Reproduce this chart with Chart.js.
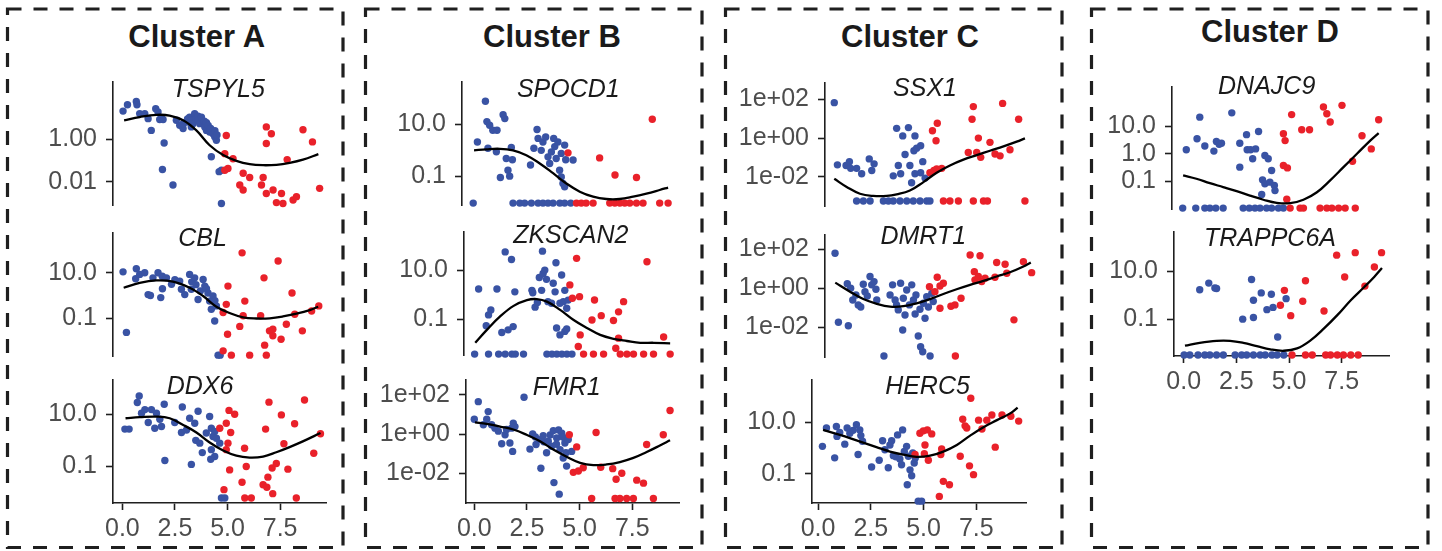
<!DOCTYPE html>
<html>
<head>
<meta charset="utf-8">
<script src="https://cdn.jsdelivr.net/npm/chart.js@4.4.1/dist/chart.umd.min.js"></script>
<style>
  body { margin: 0; background: #fff; }
  #page { position: relative; width: 1442px; height: 551px; overflow: hidden; font-family: "Liberation Sans", Arial, sans-serif; }
  #page canvas { position: absolute; }
  #boxes { position: absolute; left: 0; top: 0; }
  .cluster { position: absolute; font-weight: bold; font-size: 31px; color: #1a1a1a; transform: translate(-50%, -50%); line-height: 1; white-space: nowrap; }
  .gene { position: absolute; font-style: italic; font-size: 25px; color: #1a1a1a; transform: translate(-50%, -50%); line-height: 1; white-space: nowrap; }
</style>
</head>
<body>
<div id="page">
  <svg id="boxes" width="1442" height="551"></svg>
</div>
<script>
// ---- data (x = pseudotime, y = expression, log scale) ----
const clusterNames = ['Cluster A', 'Cluster B', 'Cluster C', 'Cluster D'];
const xTickValues = [0, 2.5, 5, 7.5];
const xTickLabels = ['0.0', '2.5', '5.0', '7.5'];

// Cluster A
const TSPYL5_blue = [[0.04,21],[0.25,42],[0.67,60],[0.70,42],[0.83,16],[1.07,16],[1.23,9.3],[1.38,2.6],[1.59,27],[1.70,19],[1.78,8.4],[1.94,8.4],[1.99,0.67],[1.91,0.038],[2.41,0.007],[2.57,7.8],[2.73,4.5],[2.89,3.2],[2.89,5.4],[3.05,6.5],[3.1,9],[3.20,11],[3.28,3.8],[3.3,8],[3.36,5.4],[3.44,16],[3.52,9.3],[3.6,12],[3.60,7.8],[3.68,5.4],[3.76,11],[3.84,5.4],[3.9,7],[3.92,3.8],[4.0,6],[4.00,2.6],[4.08,4.5],[4.15,2.2],[4.2,3.2],[4.31,1.8],[4.39,1.3],[4.4,2.5],[4.47,0.9],[4.5,1.6],[4.23,0.15],[4.60,0.03],[4.71,0.035],[4.71,0.00096]];
const TSPYL5_red = [[4.94,1.5],[4.87,0.21],[5.26,0.12],[5.02,0.042],[4.87,0.035],[5.74,0.025],[6.05,0.016],[5.58,0.007],[5.74,0.0041],[6.69,0.016],[6.61,0.007],[6.84,3.8],[7.08,1.8],[6.84,0.63],[6.84,0.0028],[7.16,0.0041],[7.32,0.00105],[7.56,0.0028],[7.63,0.00096],[8.11,0.0014],[8.27,0.002],[7.83,0.11],[8.58,2.8],[9.03,0.75],[9.37,0.0049]];
const TSPYL5_fitX = [0.09,0.83,1.62,2.25,2.89,3.52,4.15,4.79,5.42,6.05,6.69,7.32,7.95,8.58,9.31];
const TSPYL5_fitY = [7.8,11,14,13,7.8,2.6,0.52,0.18,0.096,0.067,0.06,0.063,0.078,0.11,0.2];
const TSPYL5_ticks = [1, 0.01];
const TSPYL5_tickLabels = ['1.00', '0.01'];

const CBL_blue = [[0.04,11],[0.20,0.024],[0.67,15],[0.64,5.5],[0.83,8.5],[1.07,10],[1.23,1.1],[1.34,1.0],[1.46,6],[1.70,10],[1.83,0.81],[1.9,7],[1.91,2],[2.1,6],[2.34,3.1],[2.5,5],[2.73,4.3],[2.81,1.9],[2.97,1.1],[3.20,8.5],[3.28,1.9],[3.3,4],[3.44,6],[3.5,3],[3.60,0.67],[3.71,1.6],[3.84,5.1],[3.92,2.6],[4.0,2],[4.07,1.3],[4.15,0.57],[4.31,0.95],[4.23,0.25],[4.39,0.076],[4.4,0.6],[4.47,0.35],[4.55,0.0024],[4.65,0.0024]];
const CBL_red = [[5.69,75],[5.02,2.6],[4.94,0.41],[4.79,0.18],[5.82,0.57],[5.74,0.13],[5.58,0.044],[5.0,0.02],[4.79,0.0037],[5.18,0.0024],[6.05,0.0024],[6.84,0.0024],[6.76,0.0066],[6.73,6],[6.57,0.13],[6.99,0.028],[7.15,0.017],[7.15,0.033],[7.54,0.012],[7.79,0.055],[8.06,1.3],[7.40,33],[8.19,0.15],[8.55,0.028],[8.99,0.21],[9.33,0.35]];
const CBL_fitX = [0.07,0.83,1.62,2.41,3.20,3.84,4.47,5.10,5.74,6.37,7.0,7.63,8.27,8.9,9.30];
const CBL_fitY = [2.2,3.6,4.6,4.1,2.2,0.95,0.32,0.17,0.11,0.098,0.1,0.12,0.16,0.23,0.32];
const CBL_ticks = [10, 0.1];
const CBL_tickLabels = ['10.0', '0.1'];

const DDX6_blue = [[0.12,2.7],[0.32,2.7],[0.80,50],[0.71,28],[0.91,11],[1.07,15],[1.23,4.8],[1.38,15],[1.54,2.9],[1.62,11],[1.78,6.4],[1.86,3.4],[1.99,24],[2.02,0.17],[2.49,4.8],[2.85,19],[2.81,2],[3.05,2.5],[3.20,7],[3.28,0.12],[3.44,4.5],[3.49,1.0],[3.60,13],[3.68,0.78],[3.80,0.34],[3.99,1.9],[4.15,8.2],[4.23,2.9],[4.31,1.4],[4.39,2.2],[4.23,0.44],[4.39,0.24],[4.20,0.19],[4.63,0.78],[4.47,1.2],[4.71,0.0062],[4.87,0.0062]];
const DDX6_red = [[4.63,2.9],[4.94,4.5],[5.07,14],[5.34,10],[5.15,2],[5.02,0.78],[4.94,0.44],[5.81,0.5],[5.10,0.074],[5.89,0.1],[5.69,0.025],[4.83,0.013],[5.82,0.0062],[6.13,0.0062],[6.81,2.7],[6.97,29],[6.69,0.02],[6.87,0.016],[6.92,0.039],[7.15,0.0091],[7.12,0.087],[7.32,0.13],[7.56,9.4],[7.68,0.74],[7.87,0.079],[8.19,4.3],[8.27,0.0062],[8.66,35],[9.1,0.32],[9.42,1.8]];
const DDX6_fitX = [0.15,0.83,1.62,2.25,2.89,3.52,4.15,4.79,5.42,6.05,6.69,7.32,7.95,8.58,9.42];
const DDX6_fitY = [7.0,7.7,8.1,7.0,3.9,2.0,0.83,0.41,0.26,0.22,0.24,0.35,0.55,0.91,1.9];
const DDX6_ticks = [10, 0.1];
const DDX6_tickLabels = ['10.0', '0.1'];

// Cluster B
const SPOCD1_blue = [[0,0.009],[0.2,2.1],[0.58,80],[0.65,13],[0.78,9.4],[0.70,1.2],[0.93,6],[1.1,0.88],[1.13,6],[1.29,0.088],[1.42,24],[1.50,17],[1.57,0.48],[1.65,0.17],[1.73,0.1],[1.81,1.3],[1.86,0.43],[2.72,0.27],[2.88,1.2],[3.03,6.4],[3.08,2.9],[3.23,1.0],[3.31,2.1],[3.44,3.3],[3.55,0.56],[3.63,0.31],[3.71,0.87],[3.82,2.9],[3.87,1.4],[3.94,0.48],[4.02,2.1],[4.10,0.17],[4.18,0.76],[4.26,0.052],[4.34,0.039],[4.39,0.43],[4.34,1.6],[4.74,0.42],[4.18,0.093],[1.89,0.009],[2.21,0.009],[2.44,0.009],[2.76,0.009],[3.08,0.009],[3.31,0.009],[3.55,0.009],[3.79,0.009],[4.11,0.009],[4.34,0.009],[4.63,0.009]];
const SPOCD1_red = [[4.50,0.8],[6.0,0.51],[6.73,0.11],[7.75,0.089],[8.5,16],[4.9,0.009],[5.13,0.009],[5.36,0.009],[5.69,0.009],[6.48,0.009],[6.72,0.009],[6.96,0.009],[7.19,0.009],[7.43,0.009],[7.75,0.009],[8.06,0.009],[8.85,0.009],[9.25,0.009]];
const SPOCD1_fitX = [0.04,0.62,1.26,1.89,2.52,3.16,3.79,4.42,5.06,5.69,6.32,6.95,7.59,8.22,8.85,9.25];
const SPOCD1_fitY = [1.0,1.1,1.15,1.0,0.65,0.31,0.13,0.052,0.025,0.016,0.013,0.013,0.016,0.021,0.029,0.036];
const SPOCD1_ticks = [10, 0.1];
const SPOCD1_tickLabels = ['10.0', '0.1'];

const ZKSCAN2_blue = [[0.21,1.7],[0.57,0.054],[0.68,0.15],[0.79,0.24],[1.08,1.7],[1.31,0.029],[1.47,55],[1.61,0.037],[1.77,27],[1.85,0.05],[1.93,1.3],[2.74,1.5],[2.78,1.2],[2.89,0.31],[3.0,0.48],[3.09,5],[3.2,1.5],[3.24,59],[3.27,7.3],[3.35,10],[3.43,4.2],[3.5,0.52],[3.67,0.45],[3.75,2.9],[3.84,1.3],[3.88,20],[3.91,0.044],[4.07,0.45],[4.15,6.3],[4.23,0.52],[4.30,0.032],[4.39,0.04],[4.30,1.5],[4.39,0.28],[4.46,0.6],[4.07,0.023],[0.02,0.0038],[0.68,0.0038],[1.16,0.0038],[1.47,0.0038],[1.79,0.0038],[1.95,0.0038],[2.34,0.0038],[3.45,0.0038],[3.69,0.0038],[3.92,0.0038],[4.16,0.0038],[4.40,0.0038],[4.64,0.0038]];
const ZKSCAN2_red = [[4.54,2.5],[4.66,0.71],[5.0,0.83],[4.86,30],[5.71,0.61],[5.59,0.093],[6.03,0.14],[5.03,0.023],[4.94,0.0078],[6.85,0.2],[7.09,0.52],[6.61,0.089],[6.85,0.017],[6.72,0.0066],[8.2,22],[8.99,0.019],[5.19,0.0038],[5.66,0.0038],[6.14,0.0038],[6.93,0.0038],[7.25,0.0038],[7.56,0.0038],[8.04,0.0038],[8.51,0.0038],[9.30,0.0038]];
const ZKSCAN2_fitX = [0.05,0.6,1.23,1.87,2.5,2.97,3.45,4.08,4.72,5.35,5.98,6.61,7.25,7.88,8.51,9.30];
const ZKSCAN2_fitY = [0.011,0.037,0.13,0.35,0.6,0.66,0.52,0.24,0.093,0.044,0.023,0.016,0.013,0.011,0.011,0.0105];
const ZKSCAN2_ticks = [10, 0.1];
const ZKSCAN2_tickLabels = ['10.0', '0.1'];

const FMR1_blue = [[0,5.7],[0.19,45],[0.43,3],[0.66,14],[0.59,5.7],[0.82,3],[0.98,2],[1.14,1.4],[1.30,0.32],[1.46,0.92],[1.53,1.7],[1.69,0.35],[1.77,2],[1.82,0.13],[1.85,3.6],[1.93,2.4],[2.36,75],[2.64,0.17],[2.77,1.0],[2.9,0.7],[2.93,0.29],[3.12,0.52],[3.16,0.018],[3.27,0.82],[3.3,0.4],[3.43,0.11],[3.51,0.43],[3.6,0.9],[3.67,0.24],[3.75,1.5],[3.78,0.0033],[3.9,0.3],[3.91,0.63],[4.0,1.6],[4.03,0.00085],[4.07,0.16],[4.15,1.1],[4.2,0.7],[4.22,0.06],[4.30,0.35],[4.35,0.11],[4.38,0.023],[4.46,0.52],[4.62,0.13]];
const FMR1_red = [[4.51,0.92],[4.86,0.22],[4.70,0.011],[4.94,0.013],[5.17,0.019],[5.78,1.2],[6.0,0.02],[6.57,0.017],[6.73,0.0049],[7.0,0.01],[7.71,0.0044],[8.03,0.0031],[8.18,0.29],[8.97,0.92],[9.29,16],[5.57,0.00051],[6.68,0.00051],[6.91,0.00051],[7.23,0.00051],[7.55,0.00051],[8.5,0.00051]];
const FMR1_fitX = [0.03,0.59,1.22,1.85,2.48,3.12,3.75,4.38,5.02,5.65,6.28,6.91,7.55,8.18,8.81,9.29];
const FMR1_fitY = [3.9,3.3,2.4,1.7,0.92,0.43,0.16,0.069,0.034,0.026,0.028,0.037,0.06,0.12,0.26,0.48];
const FMR1_ticks = [100, 1, 0.01];
const FMR1_tickLabels = ['1e+02', '1e+00', '1e-02'];

// Cluster C
const SSX1_blue = [[0.25,69],[0.40,0.041],[0.81,0.038],[0.97,0.06],[1.03,0.027],[1.31,0.027],[1.55,0.014],[1.91,0.083],[2.03,0.021],[2.14,0.046],[3.05,0.011],[3.21,3.2],[3.29,0.038],[3.40,0.014],[3.50,1.3],[3.61,0.14],[3.77,3.5],[3.84,0.038],[3.92,0.0048],[4.03,0.22],[4.08,1.3],[4.16,0.3],[4.35,0.4],[4.08,0.014],[4.35,0.016],[4.45,0.06],[4.56,0.0084],[1.31,0.00055],[1.63,0.00055],[1.95,0.00055],[2.58,0.00055],[2.82,0.00055],[3.05,0.00055],[3.37,0.00055],[3.69,0.00055],[4.0,0.00055],[4.32,0.00055],[4.64,0.00055],[4.79,0.00055]];
const SSX1_red = [[4.79,0.016],[4.98,0.021],[5.11,0.025],[5.35,0.027],[4.91,2.4],[5.14,5.9],[5.08,0.73],[6.61,0.18],[6.85,43],[6.79,9.5],[7.01,0.18],[7.09,1],[7.2,0.1],[7.64,0.6],[7.88,0.15],[8.12,0.12],[8.24,63],[8.59,0.25],[9.0,9.5],[5.43,0.00055],[5.74,0.00055],[6.14,0.00055],[6.85,0.00055],[7.33,0.00055],[7.52,0.00055],[9.30,0.00055]];
const SSX1_fitX = [0.25,0.84,1.47,2.10,2.74,3.21,3.84,4.48,5.11,5.74,6.38,7.01,7.64,8.28,8.91,9.30];
const SSX1_fitY = [0.0077,0.0029,0.0013,0.001,0.001,0.0012,0.0019,0.0052,0.016,0.038,0.076,0.13,0.22,0.37,0.65,0.96];
const SSX1_ticks = [100, 1, 0.01];
const SSX1_tickLabels = ['1e+02', '1e+00', '1e-02'];

const DMRT1_blue = [[0.24,62],[0.40,0.018],[0.87,0.012],[0.82,1.7],[0.98,1],[1.08,0.25],[1.23,0.45],[1.34,0.14],[1.46,0.11],[1.58,1.6],[1.66,0.67],[1.77,0.4],[1.90,4],[1.98,1.5],[2.09,2.2],[2.18,0.89],[2.22,0.25],[2.56,0.00034],[2.85,0.45],[2.97,1.5],[3.09,0.25],[3.16,0.14],[3.24,0.078],[3.35,1.8],[3.45,0.0073],[3.48,0.31],[3.56,0.043],[3.64,0.82],[3.77,0.14],[3.88,1.5],[3.96,0.25],[4.04,0.048],[4.08,0.45],[4.19,0.0036],[4.27,0.084],[4.30,0.001],[4.40,0.00056],[4.43,0.17],[4.51,0.029],[4.59,0.37],[4.67,0.11],[4.75,0.00034],[4.83,0.55],[4.90,0.21]];
const DMRT1_red = [[4.72,1.2],[4.98,0.67],[5.09,3.7],[5.22,1.3],[5.38,1.8],[5.22,0.094],[5.74,0.12],[5.93,0.14],[6.22,0.31],[5.95,0.00034],[6.65,51],[7.12,46],[6.85,7.1],[6.88,2.7],[7.04,4],[7.2,2.2],[7.36,3.3],[7.91,21],[7.83,3.7],[8.31,17],[8.39,5.9],[8.73,0.024],[9.18,23],[9.57,6.3]];
const DMRT1_fitX = [0.25,0.95,1.58,2.22,2.85,3.48,4.11,4.75,5.38,6.01,6.65,7.28,7.91,8.54,9.18,9.53];
const DMRT1_fitY = [1.95,0.67,0.28,0.16,0.115,0.12,0.17,0.28,0.51,0.89,1.5,2.4,4,6.6,13,21];
const DMRT1_ticks = [100, 1, 0.01];
const DMRT1_tickLabels = ['1e+02', '1e+00', '1e-02'];

const HERC5_blue = [[0.21,1.15],[0.40,5.9],[0.79,0.41],[0.87,6.8],[0.90,2.8],[1.03,4],[1.27,1.4],[1.38,5.9],[1.51,3.7],[1.66,4.8],[1.82,7.9],[1.90,0.55],[1.98,5],[2.03,3],[2.11,1.8],[2.54,0.18],[2.90,0.33],[3.06,1.9],[3.17,0.85],[3.33,0.17],[3.41,1.3],[3.49,1.9],[3.57,0.5],[3.69,0.45],[3.77,3.2],[3.88,0.37],[3.96,0.22],[4.01,5],[4.09,0.72],[4.20,1.15],[4.28,0.47],[4.23,0.037],[4.36,0.14],[4.44,0.083],[4.49,0.63],[4.56,0.26],[4.61,0.4],[4.75,0.0085],[4.91,0.0085]];
const HERC5_red = [[4.60,0.55],[4.83,3.7],[4.99,4.6],[5.18,5],[5.39,3.5],[5.07,1.3],[5.04,0.59],[5.23,0.33],[5.86,0.9],[5.82,0.55],[5.94,0.05],[6.23,0.037],[5.75,0.013],[6.74,0.47],[6.86,13],[6.97,7.2],[7.05,5.9],[7.18,0.2],[7.24,85],[7.37,0.091],[7.61,12],[7.77,5.4],[8.0,12],[8.24,19],[8.40,1.07],[8.72,19],[9.14,17],[9.51,11]];
const HERC5_fitX = [0.24,0.87,1.51,2.14,2.77,3.41,4.04,4.67,5.31,5.94,6.58,7.21,7.84,8.48,9.11,9.46];
const HERC5_fitY = [5,3.5,2.4,1.6,1.07,0.72,0.55,0.45,0.5,0.72,1.3,3,6.4,12,22,37];
const HERC5_ticks = [10, 0.1];
const HERC5_tickLabels = ['10.0', '0.1'];

// Cluster D
const DNAJC9_blue = [[0.17,1.4],[0.68,3.5],[0.81,21],[1.05,1.9],[1.48,1.25],[1.60,2.8],[1.73,2.2],[1.84,2.4],[2.33,30],[2.71,2.4],[2.71,0.33],[3.03,4.9],[3.06,1.4],[3.22,1.4],[3.32,0.66],[3.46,1.5],[3.60,6.4],[3.90,0.87],[4.06,0.66],[4.22,0.25],[3.79,0.115],[3.90,0.083],[4.14,0.095],[4.35,0.072],[4.38,0.047],[3.75,0.034],[0,0.011],[0.62,0.011],[1.05,0.011],[1.29,0.011],[1.57,0.011],[1.92,0.011],[2.87,0.011],[3.16,0.011],[3.43,0.011],[3.67,0.011],[3.98,0.011],[4.22,0.011],[4.54,0.011],[4.78,0.011]];
const DNAJC9_red = [[5.17,26],[4.78,5.3],[4.86,3],[4.78,0.38],[4.97,0.31],[4.94,0.023],[5.65,7.4],[6.02,7.4],[6.68,49],[6.84,28],[7.0,14],[7.56,56],[8.06,0.54],[8.51,4.5],[8.95,1.5],[9.3,17],[5.1,0.011],[5.57,0.011],[5.73,0.011],[6.52,0.011],[6.84,0.011],[7.08,0.011],[7.40,0.011],[7.71,0.011],[8.19,0.011]];
const DNAJC9_fitX = [0.02,0.65,1.29,1.92,2.56,3.19,3.83,4.46,5.10,5.73,6.37,7.0,7.63,8.27,8.90,9.30];
const DNAJC9_fitY = [0.166,0.126,0.087,0.063,0.045,0.031,0.022,0.017,0.0165,0.022,0.041,0.11,0.33,1.0,3.0,5.6];
const DNAJC9_ticks = [10, 1, 0.1];
const DNAJC9_tickLabels = ['10.0', '1.0', '0.1'];

const TRAPPC6A_blue = [[0.76,1.7],[1.19,3.2],[1.48,2],[1.56,1.9],[2.80,0.1],[3.22,4.5],[3.31,0.62],[3.31,0.117],[3.68,1.25],[3.95,0.25],[4.16,1.1],[4.24,0.31],[4.46,0.018],[4.86,0.72],[0.02,0.0032],[0.29,0.0032],[0.68,0.0032],[1.0,0.0032],[1.24,0.0032],[1.56,0.0032],[1.88,0.0032],[2.44,0.0032],[2.75,0.0032],[2.99,0.0032],[3.31,0.0032],[3.63,0.0032],[3.87,0.0032],[4.19,0.0032],[4.43,0.0032],[4.75,0.0032]];
const TRAPPC6A_red = [[4.78,1.6],[4.59,0.38],[5.08,0.14],[5.78,4],[5.65,0.56],[6.66,0.22],[7.26,47],[7.64,5.8],[8.14,60],[8.60,2.4],[9.05,15],[9.39,60],[5.14,0.0032],[5.78,0.0032],[6.10,0.0032],[6.74,0.0032],[6.97,0.0032],[7.29,0.0032],[7.58,0.0032],[7.93,0.0032],[8.28,0.0032]];
const TRAPPC6A_fitX = [0.06,0.76,1.56,2.20,2.83,3.47,4.11,4.75,5.38,6.02,6.66,7.29,7.93,8.57,9.04,9.41];
const TRAPPC6A_fitY = [0.0078,0.0103,0.0125,0.0125,0.0103,0.0075,0.0055,0.0048,0.006,0.013,0.041,0.147,0.62,2.2,5.8,13.7];
const TRAPPC6A_ticks = [10, 0.1];
const TRAPPC6A_tickLabels = ['10.0', '0.1'];

// ---- panels ----
const panels = [
  { gene: 'TSPYL5', blue: TSPYL5_blue, red: TSPYL5_red, fitX: TSPYL5_fitX, fitY: TSPYL5_fitY, ticks: TSPYL5_ticks, labels: TSPYL5_tickLabels },
  { gene: 'CBL', blue: CBL_blue, red: CBL_red, fitX: CBL_fitX, fitY: CBL_fitY, ticks: CBL_ticks, labels: CBL_tickLabels },
  { gene: 'DDX6', blue: DDX6_blue, red: DDX6_red, fitX: DDX6_fitX, fitY: DDX6_fitY, ticks: DDX6_ticks, labels: DDX6_tickLabels },
  { gene: 'SPOCD1', blue: SPOCD1_blue, red: SPOCD1_red, fitX: SPOCD1_fitX, fitY: SPOCD1_fitY, ticks: SPOCD1_ticks, labels: SPOCD1_tickLabels },
  { gene: 'ZKSCAN2', blue: ZKSCAN2_blue, red: ZKSCAN2_red, fitX: ZKSCAN2_fitX, fitY: ZKSCAN2_fitY, ticks: ZKSCAN2_ticks, labels: ZKSCAN2_tickLabels },
  { gene: 'FMR1', blue: FMR1_blue, red: FMR1_red, fitX: FMR1_fitX, fitY: FMR1_fitY, ticks: FMR1_ticks, labels: FMR1_tickLabels },
  { gene: 'SSX1', blue: SSX1_blue, red: SSX1_red, fitX: SSX1_fitX, fitY: SSX1_fitY, ticks: SSX1_ticks, labels: SSX1_tickLabels },
  { gene: 'DMRT1', blue: DMRT1_blue, red: DMRT1_red, fitX: DMRT1_fitX, fitY: DMRT1_fitY, ticks: DMRT1_ticks, labels: DMRT1_tickLabels },
  { gene: 'HERC5', blue: HERC5_blue, red: HERC5_red, fitX: HERC5_fitX, fitY: HERC5_fitY, ticks: HERC5_ticks, labels: HERC5_tickLabels },
  { gene: 'DNAJC9', blue: DNAJC9_blue, red: DNAJC9_red, fitX: DNAJC9_fitX, fitY: DNAJC9_fitY, ticks: DNAJC9_ticks, labels: DNAJC9_tickLabels },
  { gene: 'TRAPPC6A', blue: TRAPPC6A_blue, red: TRAPPC6A_red, fitX: TRAPPC6A_fitX, fitY: TRAPPC6A_fitY, ticks: TRAPPC6A_ticks, labels: TRAPPC6A_tickLabels }
];

// ---- layout (pixels) ----
const layout = {
  TSPYL5:   { axisX: 113.3,  x0: 122.5, top: 81.7,  bottom: 205,   yMin: 0.00081, yMax: 490, title: [218.3, 88.3] },
  CBL:      { axisX: 113.3,  x0: 122.5, top: 233.3, bottom: 356.7, yMin: 0.0022,  yMax: 560, title: [202.5, 236.7] },
  DDX6:     { axisX: 113.3,  x0: 122.7, top: 380,   bottom: 503.3, right: 326.7, yMin: 0.004, yMax: 204, title: [200, 385] },
  SPOCD1:   { axisX: 462.3,  x0: 473.5, top: 81.7,  bottom: 205,   yMin: 0.0076,  yMax: 447, title: [568.3, 88] },
  ZKSCAN2:  { axisX: 464.3,  x0: 474.5, top: 231.7, bottom: 355,   yMin: 0.0035,  yMax: 355, title: [570.8, 234] },
  FMR1:     { axisX: 466,    x0: 474.3, top: 380,   bottom: 503.3, right: 679, yMin: 0.00033, yMax: 575, title: [566.7, 385.8] },
  SSX1:     { axisX: 825,    x0: 829,   top: 83.3,  bottom: 206.7, yMin: 0.00032, yMax: 720, title: [925, 86.7] },
  DMRT1:    { axisX: 825,    x0: 830,   top: 235,   bottom: 356.7, yMin: 0.00031, yMax: 537, title: [923.3, 234.7] },
  HERC5:    { axisX: 812.3,  x0: 818.3, top: 380,   bottom: 503.3, right: 1026, yMin: 0.0072, yMax: 436, title: [927.5, 385] },
  DNAJC9:   { axisX: 1172.3, x0: 1183,  top: 86.7,  bottom: 208.3, yMin: 0.0102,  yMax: 257, title: [1266.7, 85] },
  TRAPPC6A: { axisX: 1174.3, x0: 1184,  top: 231.7, bottom: 356,   right: 1389.3, yMin: 0.0029, yMax: 436, title: [1270, 236.7] }
};
const boxes = [[7.5, 9, 335.5, 538.5], [365.5, 9, 336.5, 538.5], [725.5, 9, 336.5, 538.5], [1091.5, 9, 336.5, 538.5]];
const clusterPos = [[196.7, 36], [552, 36], [910, 36], [1270, 31]];

const BLUE = '#3953a4';
const RED = '#e9212a';
const INK = '#1f1f1f';
const TICK_GREY = '#4d4d4d';
const FONT = '"Liberation Sans", Arial, sans-serif';
const UNIT = 21.07;   // px per x unit
const Y_W = 95, PAD = 6, X_H = 42, PLOT_W = 215;

const page = document.getElementById('page');

// dashed cluster boxes
const svg = document.getElementById('boxes');
boxes.forEach(b => {
  const r = document.createElementNS('http://www.w3.org/2000/svg', 'rect');
  r.setAttribute('x', b[0]); r.setAttribute('y', b[1]);
  r.setAttribute('width', b[2]); r.setAttribute('height', b[3]);
  r.setAttribute('fill', 'none'); r.setAttribute('stroke', INK);
  r.setAttribute('stroke-width', 3.2); r.setAttribute('stroke-dasharray', '14 12');
  svg.appendChild(r);
});

clusterNames.forEach((name, i) => {
  const d = document.createElement('div');
  d.className = 'cluster';
  d.textContent = name;
  d.style.left = clusterPos[i][0] + 'px';
  d.style.top = clusterPos[i][1] + 'px';
  page.appendChild(d);
});

function toPoints(pairs) {
  return pairs.map(p => ({ x: p[0], y: p[1] }));
}

panels.forEach(p => {
  const L = layout[p.gene];
  const isBottom = L.right !== undefined;
  const right = isBottom ? L.right : L.axisX + PLOT_W;
  const w = Math.round(Y_W + (right - L.axisX) + PAD);
  const h = Math.round(PAD + (L.bottom - L.top) + (isBottom ? X_H : PAD));

  const cv = document.createElement('canvas');
  cv.width = w; cv.height = h;
  cv.style.width = w + 'px'; cv.style.height = h + 'px';
  cv.style.left = (L.axisX - Y_W) + 'px';
  cv.style.top = (L.top - PAD) + 'px';
  page.appendChild(cv);

  const fit = p.fitX.map((x, i) => ({ x: x, y: p.fitY[i] }));

  new Chart(cv, {
    type: 'scatter',
    data: {
      datasets: [
        { data: fit, showLine: true, borderColor: '#000', borderWidth: 2.3, pointRadius: 0, tension: 0.4, clip: false },
        { data: toPoints(p.red), backgroundColor: RED, borderWidth: 0, pointRadius: 3.7, clip: false },
        { data: toPoints(p.blue), backgroundColor: BLUE, borderWidth: 0, pointRadius: 3.7, clip: false }
      ]
    },
    options: {
      responsive: false,
      animation: false,
      events: [],
      layout: { padding: { left: 0, top: PAD, right: PAD, bottom: isBottom ? 0 : PAD } },
      plugins: { legend: { display: false }, tooltip: { enabled: false } },
      scales: {
        x: {
          type: 'linear',
          display: isBottom,
          min: (L.axisX - L.x0) / UNIT,
          max: (right - L.x0) / UNIT,
          afterBuildTicks: s => { s.ticks = xTickValues.map(v => ({ value: v })); },
          afterFit: s => {
            if (isBottom) { s.height = X_H; }
            s.paddingLeft = 0; s.paddingRight = 0;
          },
          ticks: {
            callback: (v, i) => xTickLabels[i],
            font: { family: FONT, size: 25 },
            color: TICK_GREY,
            padding: 4,
            maxRotation: 0,
            autoSkip: false
          },
          grid: { drawOnChartArea: false, drawTicks: true, tickLength: 7, tickColor: INK, tickWidth: 1.6 },
          border: { display: true, color: INK, width: 1.6 }
        },
        y: {
          type: 'logarithmic',
          min: L.yMin,
          max: L.yMax,
          afterBuildTicks: s => { s.ticks = p.ticks.map(v => ({ value: v })); },
          afterFit: s => { s.width = Y_W; s.paddingTop = 0; s.paddingBottom = 0; },
          ticks: {
            callback: (v, i) => p.labels[i],
            font: { family: FONT, size: 25 },
            color: TICK_GREY,
            padding: 9,
            autoSkip: false
          },
          grid: { drawOnChartArea: false, drawTicks: true, tickLength: 7, tickColor: INK, tickWidth: 1.6 },
          border: { display: true, color: INK, width: 1.6 }
        }
      }
    }
  });

  const t = document.createElement('div');
  t.className = 'gene';
  t.textContent = p.gene;
  t.style.left = L.title[0] + 'px';
  t.style.top = L.title[1] + 'px';
  page.appendChild(t);
});
</script>
</body>
</html>
